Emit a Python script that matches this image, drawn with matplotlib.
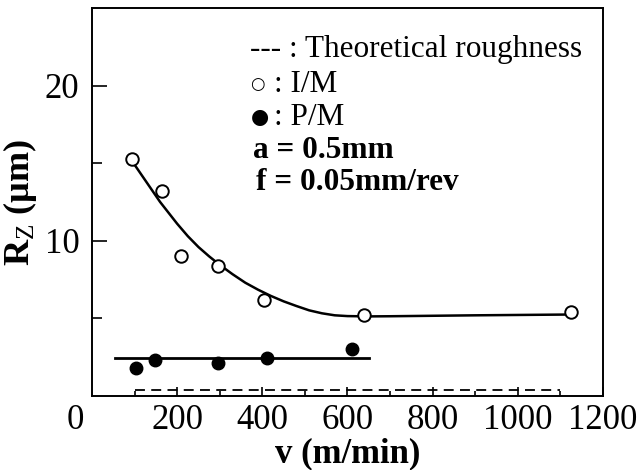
import matplotlib
matplotlib.use("Agg")
import matplotlib.pyplot as plt

plt.rcParams['font.family'] = ['Liberation Serif', 'DejaVu Serif']
plt.rcParams['mathtext.fontset'] = 'custom'
plt.rcParams['mathtext.rm'] = 'Liberation Serif'
plt.rcParams['mathtext.it'] = 'Liberation Serif:italic'
plt.rcParams['mathtext.bf'] = 'Liberation Serif:bold'

# ---------- DATA ---------- #
# I/M measured points
im_v = [95, 165, 210, 297, 405, 638, 1125]
im_rz = [15.3, 13.2, 9.0, 8.4, 6.2, 5.2, 5.4]

# P/M measured points
pm_v = [104, 148, 297, 411, 611]
pm_rz = [1.8, 2.3, 2.1, 2.45, 3.0]

# fitted curve through I/M
curve_v = [100, 120, 140, 160, 180, 200, 225, 250, 275, 300, 330, 360, 390,
           420, 450, 480, 510, 540, 570, 600, 650, 700, 900, 1120]
curve_rz = [14.9, 14.1, 13.3, 12.5, 11.8, 11.1, 10.3, 9.6, 9.0, 8.45, 7.85,
            7.3, 6.85, 6.45, 6.1, 5.8, 5.52, 5.33, 5.2, 5.15, 5.13, 5.14, 5.2, 5.25]

# P/M level line
pm_fit_v = [55, 650]
pm_fit_rz = [2.45, 2.45]

# theoretical roughness
theory_v = [100, 1100]
theory_rz = [0.4, 0.4]

x_ticks = [200, 400, 600, 800, 1000, 1200]
x_minor = [100, 300, 500, 700, 900, 1100]
y_ticks = [10, 20]
y_minor = [5, 15]

legend_lines = ["--- : Theoretical roughness", ": I/M", ": P/M",
                "a = 0.5mm", "f = 0.05mm/rev"]

# ---------- PLOT ---------- #
fig = plt.figure(figsize=(6.38, 4.70), dpi=100)
ax = fig.add_axes([0.1442, 0.1574, 0.8009, 0.8256])

ax.plot(curve_v, curve_rz, color='black', lw=1.8)
ax.plot(pm_fit_v, pm_fit_rz, color='black', lw=2.0)
ax.plot(theory_v, theory_rz, color='black', lw=1.3, ls=(0, (5.5, 3.5)))
ax.plot(im_v, im_rz, 'o', ms=9, mfc='white', mec='black', mew=1.4)
ax.plot(pm_v, pm_rz, 'o', ms=9, mfc='black', mec='black')

ax.set_xlim(0, 1200)
ax.set_ylim(0, 25)
ax.set_xticks(x_ticks)
ax.set_xticks(x_minor, minor=True)
ax.set_yticks(y_ticks)
ax.set_yticks(y_minor, minor=True)

ax.tick_params(axis='y', which='major', direction='in', length=10.5, width=1.2,
               labelsize=25, pad=9)
ax.tick_params(axis='y', which='minor', direction='in', length=7, width=1.2)
ax.tick_params(axis='x', which='major', direction='in', length=6.5, width=1.2,
               labelsize=25, pad=6)
ax.tick_params(axis='x', which='minor', direction='in', length=3.5, width=1.2)
for s in ax.spines.values():
    s.set_linewidth(1.4)

# corner "0"
ax.annotate('0', xy=(0, 0), xycoords=('data', 'axes fraction'),
            xytext=(-12, -6), textcoords='offset points',
            ha='center', va='top', fontsize=25)

ax.set_xlabel('v (m/min)', fontsize=25, fontweight='bold', labelpad=0)
ax.set_ylabel(r'R$_{\mathrm{Z}}$ (µm)', fontsize=26, fontweight='bold', labelpad=4)

# legend-like annotations
ys = [0.892, 0.804, 0.719, 0.634, 0.549]
fs = 22.5
ax.text(0.31, ys[0], legend_lines[0], transform=ax.transAxes,
        fontsize=fs, va='center', ha='left')
ax.text(0.31, ys[1], '\u25CB', transform=ax.transAxes, fontsize=12,
        va='center', ha='left', family=['DejaVu Sans'])
ax.text(0.357, ys[1], legend_lines[1], transform=ax.transAxes,
        fontsize=fs, va='center', ha='left')
ax.text(0.31, ys[2], '\u25CF', transform=ax.transAxes, fontsize=15,
        va='center', ha='left', family=['DejaVu Sans'])
ax.text(0.357, ys[2], legend_lines[2], transform=ax.transAxes,
        fontsize=fs, va='center', ha='left')
ax.text(0.315, ys[3], legend_lines[3], transform=ax.transAxes,
        fontsize=fs, va='center', ha='left', fontweight='bold')
ax.text(0.32, ys[4], legend_lines[4], transform=ax.transAxes,
        fontsize=fs, va='center', ha='left', fontweight='bold')

fig.savefig('out.png', dpi=100)
